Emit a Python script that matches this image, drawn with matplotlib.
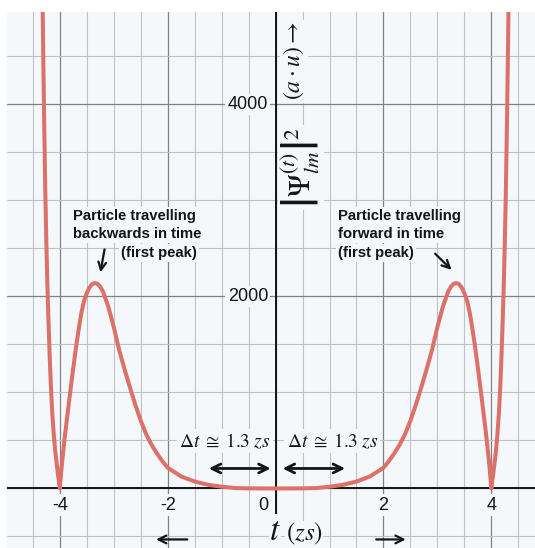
import numpy as np
import matplotlib
matplotlib.use("Agg")
import matplotlib.pyplot as plt

plt.rcParams['mathtext.fontset'] = 'stix'

# ---- data (t in zs, |Psi|^2 in a.u.) ----
t_neg = [-4.35, -4.33, -4.31, -4.29, -4.27, -4.25, -4.23, -4.21, -4.19, -4.165, -4.14,
         -4.11, -4.08, -4.04, -4.0, -3.975, -3.95, -3.9, -3.85, -3.8, -3.75, -3.7, -3.65,
         -3.6, -3.55, -3.5, -3.45, -3.4, -3.35, -3.3, -3.25, -3.2, -3.1, -3.0, -2.9, -2.8,
         -2.7, -2.6, -2.5, -2.4, -2.3, -2.2, -2.1, -2.0, -1.75, -1.5, -1.25, -1.0, -0.75,
         -0.5, -0.25]
psi_neg = [6500, 5500, 4600, 3800, 3100, 2550, 2100, 1730, 1400, 1050, 780,
           540, 360, 170, 0, 170, 320, 580, 810, 1040, 1260, 1470, 1660,
           1830, 1955, 2035, 2092, 2128, 2139, 2130, 2100, 2050, 1890, 1680, 1440, 1240,
           1050, 870, 705, 565, 455, 365, 285, 215, 125, 72, 38, 18, 4,
           1, 0]
t_mid = [0.0]
psi_mid = [0]
t_pos = [0.25, 0.5, 0.75, 1.0, 1.25, 1.5, 1.75, 2.0, 2.1, 2.2, 2.3, 2.4, 2.5, 2.6, 2.7,
         2.8, 2.9, 3.0, 3.1, 3.2, 3.25, 3.3, 3.35, 3.4, 3.45, 3.5, 3.55, 3.6, 3.65, 3.7,
         3.75, 3.8, 3.85, 3.9, 3.95, 3.975, 4.0, 4.04, 4.08, 4.11, 4.14, 4.165, 4.19,
         4.21, 4.23, 4.25, 4.27, 4.29, 4.31, 4.33, 4.35]
psi_pos = [0, 1, 4, 18, 38, 72, 125, 215, 285, 365, 455, 565, 705, 870, 1050,
           1240, 1440, 1680, 1890, 2050, 2100, 2130, 2139, 2128, 2092, 2035, 1955, 1830, 1660, 1470,
           1260, 1040, 810, 580, 320, 170, 0, 170, 360, 540, 780, 1050, 1400,
           1730, 2100, 2550, 3100, 3800, 4600, 5500, 6500]

x_major = [-4, -2, 0, 2, 4]
y_major = [0, 2000, 4000]
x_minor = list(np.arange(-4.5, 5.0, 0.5))
y_minor = list(np.arange(-500, 5000, 500))
x_tick_labels = ['-4', '-2', '2', '4']
x_tick_pos = [-4, -2, 2, 4]
y_tick_labels = ['2000', '4000']
y_tick_pos = [2000, 4000]

BG = '#f5f8fa'
CURVE = '#db7168'
INK = '#141414'

t_all = t_neg + t_mid + t_pos
psi_all = psi_neg + psi_mid + psi_pos

fig = plt.figure(figsize=(5.35, 5.48), dpi=100)
fig.patch.set_facecolor('white')
ax = fig.add_axes([7/535, 0, 528/535, 536/548])
ax.set_facecolor(BG)
ax.set_xlim(-4.98, 4.81)
ax.set_ylim(-620, 4961)
for s in ax.spines.values():
    s.set_visible(False)

ax.set_xticks(x_major)
ax.set_yticks(y_major)
ax.set_xticks(x_minor, minor=True)
ax.set_yticks(y_minor, minor=True)
ax.grid(which='minor', color='#bfc2c5', lw=0.8, zorder=0)
ax.grid(which='major', color='#7f8285', lw=0.9, zorder=0)
ax.tick_params(which='both', length=0, labelbottom=False, labelleft=False)
ax.set_axisbelow(True)

ax.axhline(0, color=INK, lw=1.4, zorder=2)
ax.axvline(0, color=INK, lw=1.4, zorder=2)

ax.plot(t_all, psi_all, color=CURVE, lw=2.9, solid_capstyle='round',
        solid_joinstyle='round', zorder=3)

lab_box = dict(facecolor=BG, edgecolor='none', pad=1.5)
tick_font = dict(family='Liberation Sans', fontsize=13, color=INK)
for p, s in zip(x_tick_pos, x_tick_labels):
    ax.text(p, -174, s, ha='center', va='center', bbox=lab_box, zorder=4, **tick_font)
ax.text(-0.22, -174, '0', ha='center', va='center', bbox=lab_box, zorder=4, **tick_font)
for p, s in zip(y_tick_pos, y_tick_labels):
    ax.text(-0.14, p, s, ha='right', va='center', bbox=lab_box, zorder=4, **tick_font)

# y-axis label
ax.text(0.473, 3345, r'$\left|\Psi_{lm}^{(t)}\right|^2$', rotation=90, ha='center',
        va='center', fontsize=22, color=INK, bbox=lab_box, zorder=4)
ax.text(0.34, 4450, r'$(a\cdot u)\rightarrow$', rotation=90, ha='center',
        va='center', fontsize=17, color=INK, bbox=lab_box, zorder=4)

# x-axis label
ax.text(-0.015, -440, r'$t$', ha='center', va='center', fontsize=24, color=INK,
        bbox=dict(facecolor=BG, edgecolor='none', pad=0.3), zorder=4)
ax.text(0.53, -478, r'$(zs)$', ha='center', va='center', fontsize=18, color=INK,
        bbox=dict(facecolor=BG, edgecolor='none', pad=0.3), zorder=4)
arr = dict(arrowstyle='->', lw=1.6, color=INK, mutation_scale=14)
ax.annotate('', xy=(-2.267, -531), xytext=(-1.586, -531), arrowprops=arr, zorder=4)
ax.annotate('', xy=(2.464, -531), xytext=(1.815, -531), arrowprops=arr, zorder=4)

# annotations
ann_font = dict(family='Liberation Sans', fontsize=10.7, fontweight='bold', color=INK)
ax.text(-3.76, 2836, 'Particle travelling', ha='left', va='center', bbox=lab_box, zorder=4, **ann_font)
ax.text(-3.76, 2649, 'backwards in time', ha='left', va='center', bbox=lab_box, zorder=4, **ann_font)
ax.text(-1.46, 2448, '(first peak)', ha='right', va='center', bbox=lab_box, zorder=4, **ann_font)
ax.text(1.154, 2836, 'Particle travelling', ha='left', va='center', bbox=lab_box, zorder=4, **ann_font)
ax.text(1.154, 2649, 'forward in time', ha='left', va='center', bbox=lab_box, zorder=4, **ann_font)
ax.text(1.154, 2448, '(first peak)', ha='left', va='center', bbox=lab_box, zorder=4, **ann_font)
ax.annotate('', xy=(-3.256, 2222), xytext=(-3.163, 2517), arrowprops=arr, zorder=4)
ax.annotate('', xy=(3.299, 2256), xytext=(2.922, 2465), arrowprops=arr, zorder=4)

# delta t annotations
dlabel = r'$\Delta t\;\cong\;1.3\;zs$'
ax.text(-0.94, 493, dlabel, ha='center', va='center', fontsize=14,
        color=INK, bbox=lab_box, zorder=4)
ax.text(1.05, 493, dlabel, ha='center', va='center', fontsize=14,
        color=INK, bbox=lab_box, zorder=4)
darr = dict(arrowstyle='<->', lw=2.0, color=INK, mutation_scale=16)
ax.annotate('', xy=(-0.04, 208), xytext=(-1.29, 208), arrowprops=darr, zorder=4)
ax.annotate('', xy=(1.34, 208), xytext=(0.08, 208), arrowprops=darr, zorder=4)

fig.savefig('out.png', dpi=100, facecolor='white')
